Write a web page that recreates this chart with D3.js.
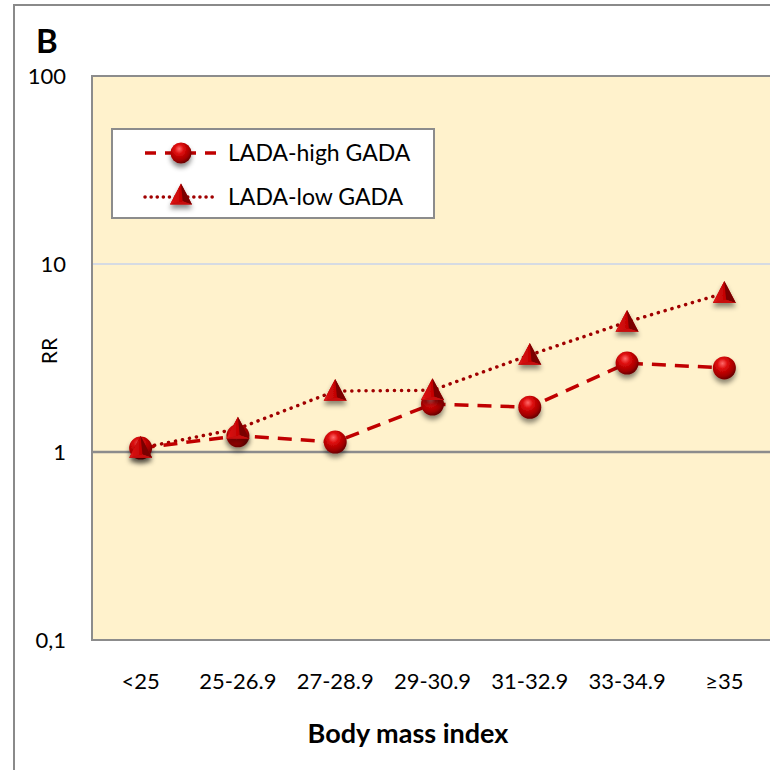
<!DOCTYPE html>
<html><head><meta charset="utf-8">
<script src="https://cdn.jsdelivr.net/npm/d3@7"></script>
<style>body{margin:0;background:#fff}svg{display:block}text{font-family:Lato,"Open Sans",sans-serif}</style>
</head><body><div id="c"></div>
<script>
const categories = ["<25","25-26.9","27-28.9","29-30.9","31-32.9","33-34.9","≥35"];
const highGADA = [1.05,1.22,1.13,1.80,1.73,2.97,2.80];
const lowGADA  = [1.05,1.33,2.11,2.13,3.28,4.92,7.0];
const yTicks = [0.1,1,10,100];
const yTickLabels = ["0,1","1","10","100"];
const seriesNames = ["LADA-high GADA","LADA-low GADA"];

const W=770,H=770;
const svg=d3.select("#c").append("svg").attr("width",W).attr("height",H);
const defs=svg.append("defs");
const rg=defs.append("radialGradient").attr("id","ball").attr("cx","0.4").attr("cy","0.35").attr("r","0.65").attr("fx","0.42").attr("fy","0.3");
rg.append("stop").attr("offset","0").attr("stop-color","#ff6a6a");
rg.append("stop").attr("offset","0.35").attr("stop-color","#dd0a0a");
rg.append("stop").attr("offset","0.8").attr("stop-color","#a00000");
rg.append("stop").attr("offset","1").attr("stop-color","#6a0000");
const lgL=defs.append("linearGradient").attr("id","triL").attr("x1","0").attr("x2","1").attr("y1","0").attr("y2","0");
lgL.append("stop").attr("offset","0").attr("stop-color","#e01818");
lgL.append("stop").attr("offset","1").attr("stop-color","#c00000");
const f=defs.append("filter").attr("id","sh").attr("x","-50%").attr("y","-50%").attr("width","200%").attr("height","200%");
f.append("feDropShadow").attr("dx",0).attr("dy",4).attr("stdDeviation",2.5).attr("flood-color","#000").attr("flood-opacity",0.45);

// outer frame
svg.append("rect").attr("x",14).attr("y",5).attr("width",W).attr("height",H).attr("fill","none").attr("stroke","#8a8a8a").attr("stroke-width",2);
svg.append("text").attr("x",36).attr("y",53).attr("font-size",33).attr("font-weight","bold").attr("fill","#000").text("B");

const L=92,T=76,R=773,B=640;
const x=d3.scaleBand().domain(categories).range([L,R]);
const y=d3.scaleLog().domain([0.1,100]).range([B,T]);

svg.append("rect").attr("x",L).attr("y",T).attr("width",R-L).attr("height",B-T).attr("fill","#fff2cc");
// gridlines
svg.append("line").attr("x1",L).attr("x2",R).attr("y1",y(10)).attr("y2",y(10)).attr("stroke","#d6dbe3").attr("stroke-width",2);
svg.append("line").attr("x1",L).attr("x2",R).attr("y1",y(1)).attr("y2",y(1)).attr("stroke","#8c8c8c").attr("stroke-width",2.5);
svg.append("rect").attr("x",L).attr("y",T).attr("width",R-L).attr("height",B-T).attr("fill","none").attr("stroke","#8c8c8c").attr("stroke-width",2);

// y axis labels
const yAxis=d3.axisLeft(y).tickValues(yTicks).tickFormat((d,i)=>yTickLabels[i]).tickSize(0).tickPadding(0);
const ya=svg.append("g").attr("transform",`translate(${66},0)`).call(yAxis);
ya.select(".domain").remove();
ya.selectAll("text").attr("font-size",22).attr("fill","#000").style("font-family","Lato,sans-serif");

// x axis labels
const xAxis=d3.axisBottom(x).tickSize(0).tickPadding(0);
const xa=svg.append("g").attr("transform",`translate(0,${673})`).call(xAxis);
xa.select(".domain").remove();
xa.selectAll("text").attr("font-size",22).attr("fill","#000").attr("dy","0.71em").style("font-family","Lato,sans-serif");

svg.append("text").attr("x",408).attr("y",743).attr("text-anchor","middle").attr("font-size",27).attr("font-weight","bold").text("Body mass index");
svg.append("text").attr("transform","translate(57,351) rotate(-90)").attr("text-anchor","middle").attr("font-size",21).text("RR");

const cx=d=>x(d)+x.bandwidth()/2;
const line=d3.line().x((d,i)=>cx(categories[i])).y(d=>y(d));

svg.append("path").datum(lowGADA).attr("d",line).attr("fill","none").attr("stroke","#a00000").attr("stroke-width",3.5).attr("stroke-dasharray","0.1 7").attr("stroke-linecap","round");
svg.append("path").datum(highGADA).attr("d",line).attr("fill","none").attr("stroke","#c00000").attr("stroke-width",3.5).attr("stroke-dasharray","14 9");

function ball(g,px,py,r){
  g.append("circle").attr("cx",px).attr("cy",py).attr("r",r).attr("fill","url(#ball)").attr("filter","url(#sh)");
}
function tri(g,px,py,s){
  const h=s*0.95;
  const top=[px,py-h*0.55], bl=[px-s/2,py+h*0.45], br=[px+s/2,py+h*0.45], m=[px+s*0.08,py+h*0.3];
  const gg=g.append("g").attr("filter","url(#sh)");
  gg.append("path").attr("d",`M${top}L${bl}L${br}Z`).attr("fill","#b00000");
  gg.append("path").attr("d",`M${top}L${bl}L${m}Z`).attr("fill","url(#triL)");
  gg.append("path").attr("d",`M${top}L${m}L${br}Z`).attr("fill","#7a0000");
  gg.append("path").attr("d",`M${bl}L${m}L${br}Z`).attr("fill","#c81010");
}
const mk=svg.append("g");
highGADA.forEach((v,i)=>ball(mk,cx(categories[i]),y(v),11.5));
lowGADA.forEach((v,i)=>tri(mk,cx(categories[i]),y(v),23));

// legend
const lg=svg.append("g");
lg.append("rect").attr("x",112).attr("y",129).attr("width",322).attr("height",89).attr("fill","#fff").attr("stroke","#8c8c8c").attr("stroke-width",2);
lg.append("line").attr("x1",145).attr("x2",216).attr("y1",153).attr("y2",153).attr("stroke","#c00000").attr("stroke-width",3.5).attr("stroke-dasharray","11 9");
ball(lg,181,153,10.5);
lg.append("text").attr("x",228).attr("y",161).attr("font-size",23).text(seriesNames[0]);
lg.append("line").attr("x1",145).attr("x2",216).attr("y1",197).attr("y2",197).attr("stroke","#a00000").attr("stroke-width",3.5).attr("stroke-dasharray","0.1 6").attr("stroke-linecap","round");
tri(lg,181,195,22);
lg.append("text").attr("x",228).attr("y",205).attr("font-size",23).text(seriesNames[1]);
</script></body></html>
